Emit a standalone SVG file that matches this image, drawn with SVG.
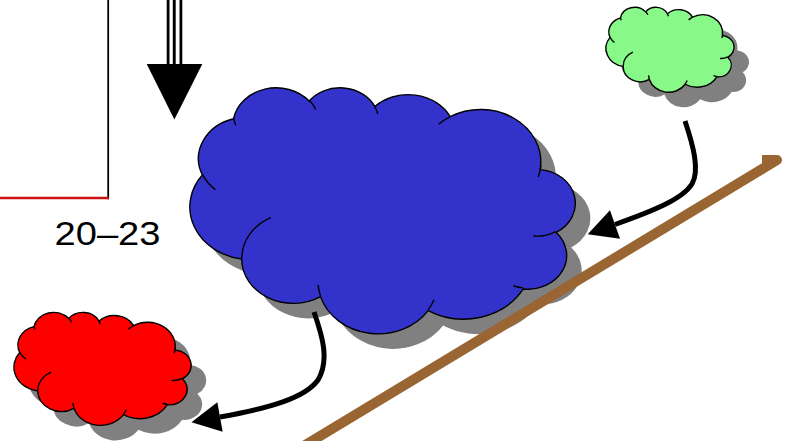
<svg xmlns="http://www.w3.org/2000/svg" xmlns:xlink="http://www.w3.org/1999/xlink" width="793" height="441" viewBox="0 0 793 441">
<style>
.shadow{fill:#808080;stroke:none}
.outline{stroke:#000;stroke-width:1.4;stroke-linejoin:round}
.inner{fill:none;stroke:#000;stroke-width:1.4}
.conn{fill:none;stroke:#000;stroke-width:5}
.brown{fill:none;stroke:#996633;stroke-width:10;stroke-linejoin:round;stroke-linecap:butt}
.label{font-family:"Liberation Sans",Arial,sans-serif;font-size:33px;fill:#000}
</style>
<defs>
<path id="cloudO" vector-effect="non-scaling-stroke" d="M 3900 14370 A 6753 9190 0 0 1 14004 5201 A 5333 7267 0 0 1 22455 3431 A 4365 5945 0 0 1 29831 2477 A 4857 6595 0 0 1 38316 5573 A 5333 7273 0 0 1 41817 15456 A 6775 9220 0 0 1 37403 30199 A 5785 7867 0 0 1 28554 36809 A 6752 9215 0 0 1 16479 39260 A 7720 10543 0 0 1 5804 35467 A 4360 5918 0 0 1 2112 25545 A 4345 5945 0 0 1 3862 14501 Z"/>
<path id="cloudI" vector-effect="non-scaling-stroke" d="M 4693 26177 A 4345 5945 0 0 1 2160 25380 M 6928 34899 A 4360 5918 0 0 1 5820 35280 M 16478 39090 A 6752 9215 0 0 1 15810 37350 M 28827 34751 A 6752 9215 0 0 1 28560 36660 M 34129 22954 A 5785 7867 0 0 1 37380 30090 M 41798 15354 A 5333 7273 0 0 1 40350 18030 M 38324 5426 A 4857 6595 0 0 1 38051 6715 M 29078 3952 A 4857 6595 0 0 1 29820 2341 M 22141 4720 A 4365 5945 0 0 1 22500 3330 M 14000 5192 A 6753 9190 0 0 1 15301 6541 M 4127 15789 A 6753 9190 0 0 1 3810 13722"/>
<marker id="ah" markerUnits="userSpaceOnUse" orient="auto" refX="0" refY="0" markerWidth="40" markerHeight="40" overflow="visible">
<path d="M 0 -15 L 29 0 L 0 15 Z" fill="#000"/>
</marker>
</defs>
<rect width="793" height="441" fill="#fff"/>

<g id="box">
<line x1="108.2" y1="-1" x2="108.2" y2="199.3" stroke="#000" stroke-width="1.8"/>
<line x1="-1" y1="198" x2="109" y2="198" stroke="#cc1111" stroke-width="2.6"/>
</g>

<g id="label">
<text class="label" x="54.5" y="245" textLength="106" lengthAdjust="spacingAndGlyphs">20–23</text>
</g>

<g id="cloud-blue">
<use xlink:href="#cloudO" class="shadow" transform="translate(590,102) scale(-0.008912,0.0056944)"/>
<use xlink:href="#cloudO" class="outline" fill="#3333cc" transform="translate(575,87) scale(-0.008912,0.0056944)"/>
<use xlink:href="#cloudI" class="inner" transform="translate(575,87) scale(-0.008912,0.0056944)"/>
</g>

<g id="cloud-green">
<use xlink:href="#cloudO" class="shadow" transform="translate(749,22) scale(-0.002963,0.0019676)"/>
<use xlink:href="#cloudO" class="outline" fill="#88f888" transform="translate(734,7) scale(-0.002963,0.0019676)"/>
<use xlink:href="#cloudI" class="inner" transform="translate(734,7) scale(-0.002963,0.0019676)"/>
</g>

<g id="cloud-red">
<use xlink:href="#cloudO" class="shadow" transform="translate(206,327) scale(-0.0040972,0.0026157)"/>
<use xlink:href="#cloudO" class="outline" fill="#ff0000" transform="translate(191,312) scale(-0.0040972,0.0026157)"/>
<use xlink:href="#cloudI" class="inner" transform="translate(191,312) scale(-0.0040972,0.0026157)"/>
</g>

<g id="connectors">
<g id="triple-arrow">
<rect x="166.7" y="-1" width="2.8" height="66" fill="#000"/>
<rect x="172.8" y="-1" width="2.9" height="66" fill="#000"/>
<rect x="179.5" y="-1" width="2.8" height="66" fill="#000"/>
<polygon points="146.7,64 202.3,64 174.4,119.5" fill="#000"/>
</g>
<path id="brown-line" class="brown" d="M 297 450 L 777 160 L 762 160"/>
<path id="green-to-blue" class="conn" marker-end="url(#ah)" d="M 685 121 C 693 145 700 170 692 184 C 682 200 650 212 615 224.5"/>
<path id="blue-to-red" class="conn" marker-end="url(#ah)" d="M 314 312 C 322 335 330 360 318 380 C 305 398 270 408 220 417"/>
</g>
</svg>
